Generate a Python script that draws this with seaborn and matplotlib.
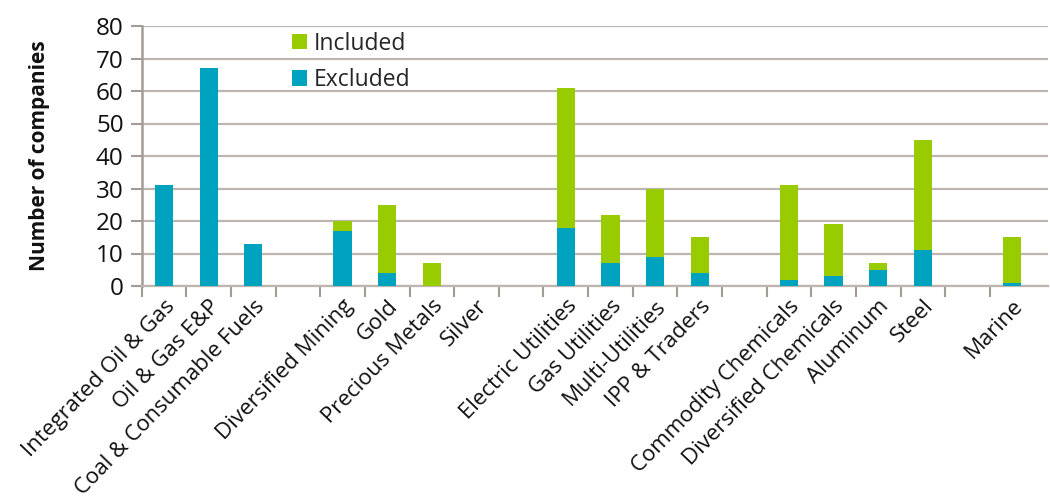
import matplotlib
matplotlib.use("Agg")
import matplotlib.pyplot as plt
import seaborn as sns
import pandas as pd
import numpy as np
from matplotlib.ticker import FixedLocator, NullFormatter

# Categories ("" = visual gap between sector groups)
categories = ["Integrated Oil & Gas", "Oil & Gas E&P", "Coal & Consumable Fuels", "",
              "Diversified Mining", "Gold", "Precious Metals", "Silver", "",
              "Electric Utilities", "Gas Utilities", "Multi-Utilities", "IPP & Traders", "",
              "Commodity Chemicals", "Diversified Chemicals", "Aluminum", "Steel", "",
              "Marine"]
excluded = [31, 67, 13, 0, 17, 4, 0, 0, 0, 18, 7, 9, 4, 0, 2, 3, 5, 11, 0, 1]
included = [0, 0, 0, 0, 3, 21, 7, 0, 0, 43, 15, 21, 11, 0, 29, 16, 2, 34, 0, 14]

keys = [c if c else f"_gap{i}" for i, c in enumerate(categories)]
df = pd.DataFrame({"key": keys, "Excluded": excluded, "Included": included})
df["Total"] = df["Excluded"] + df["Included"]

teal = "#00A3BF"
green = "#99CC00"
grid_c = "#BDB5AE"
axis_c = "#A29C97"

sns.set_theme(style="white")
plt.rcParams["font.family"] = ["Open Sans", "DejaVu Sans"]

fig = plt.figure(figsize=(10.5, 5), dpi=100)
ax = fig.add_axes([0.135, 0.428, 0.863, 0.52])

sns.barplot(data=df, x="key", y="Total", order=keys, color=green, width=0.41,
            saturation=1, linewidth=0, ax=ax, label="Included", zorder=3)
sns.barplot(data=df, x="key", y="Excluded", order=keys, color=teal, width=0.41,
            saturation=1, linewidth=0, ax=ax, label="Excluded", zorder=3)

ax.set_xlim(-0.5, len(keys) - 0.5 + 0.3)
ax.set_ylim(0, 80)
ax.set_yticks(np.arange(0, 81, 10))
ax.yaxis.grid(True, color=grid_c, linewidth=1.6, zorder=0)
ax.set_axisbelow(True)

# x ticks: marks at boundaries, labels at centers
ax.xaxis.set_major_locator(FixedLocator(np.arange(-0.5, len(keys) - 0.5, 1)))
ax.xaxis.set_major_formatter(NullFormatter())
ax.xaxis.set_minor_locator(FixedLocator(np.arange(len(keys))))
ax.set_xticklabels(categories, minor=True, rotation=46, ha="right",
                   rotation_mode="anchor", fontsize=16, color="#111111")
ax.tick_params(axis="x", which="major", length=8, width=1.5, color=axis_c, direction="out", bottom=True)
ax.tick_params(axis="x", which="minor", length=0, pad=7)
ax.tick_params(axis="y", length=8, width=1.5, color=axis_c, direction="out", left=True,
               labelsize=17.5, labelcolor="#111111", pad=5)

for s in ["top", "right"]:
    ax.spines[s].set_visible(False)
ax.spines["left"].set_color(axis_c)
ax.spines["left"].set_linewidth(1.8)
ax.spines["bottom"].set_color(grid_c)
ax.spines["bottom"].set_linewidth(1.6)

ax.set_xlabel("")
ax.set_ylabel("Number of companies", fontsize=15, fontweight="bold", labelpad=33, color="#111111")

handles, labels = ax.get_legend_handles_labels()
leg = ax.legend(handles, labels, loc="upper left", bbox_to_anchor=(0.143, 1.058),
                frameon=False, fontsize=16.5, handlelength=0.65, handleheight=0.65,
                handletextpad=0.3, labelspacing=0.55)

fig.savefig("out.png", dpi=100)
